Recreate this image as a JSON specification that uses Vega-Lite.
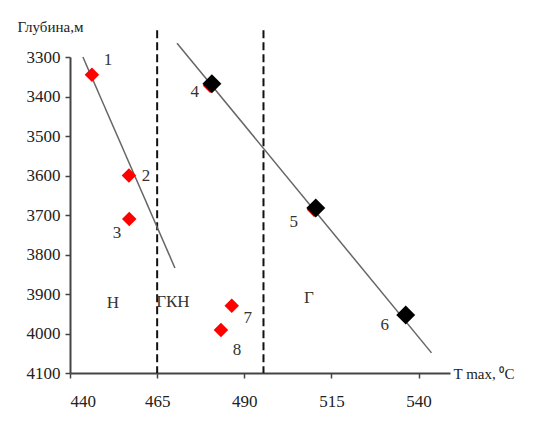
{
  "$schema": "https://vega.github.io/schema/vega-lite/v6.json",
  "width": 380,
  "height": 316,
  "autosize": {"type": "none"},
  "padding": {"left": 70, "top": 57, "right": 89, "bottom": 59},
  "background": "white",
  "config": {
    "view": {"stroke": null},
    "font": "Liberation Serif"
  },
  "encoding": {
    "x": {
      "type": "quantitative",
      "scale": {"domain": [440, 549], "nice": false, "zero": false},
      "axis": {
        "values": [440, 465, 490, 515, 540],
        "format": "d",
        "grid": false,
        "domainColor": "#444",
        "domainWidth": 2,
        "tickColor": "#444",
        "tickWidth": 1.5,
        "tickSize": 5,
        "labelFont": "Liberation Serif",
        "labelFontSize": 17,
        "labelColor": "#222",
        "labelPadding": 15,
        "title": "T max, ⁰C",
        "titleFont": "Liberation Serif",
        "titleFontSize": 15,
        "titleFontWeight": "normal",
        "titleColor": "#222",
        "titleX": 383,
        "titleY": 0,
        "titleAlign": "left",
        "titleBaseline": "middle",
        "titleAngle": 0
      }
    },
    "y": {
      "type": "quantitative",
      "scale": {"domain": [3300, 4100], "nice": false, "zero": false, "reverse": true},
      "axis": {
        "values": [3300, 3400, 3500, 3600, 3700, 3800, 3900, 4000, 4100],
        "format": "d",
        "grid": false,
        "domainColor": "#444",
        "domainWidth": 2,
        "tickColor": "#444",
        "tickWidth": 1.5,
        "tickSize": 5,
        "labelFont": "Liberation Serif",
        "labelFontSize": 17,
        "labelColor": "#222",
        "labelPadding": 5,
        "title": "Глубина,м",
        "titleFont": "Liberation Serif",
        "titleFontSize": 15,
        "titleFontWeight": "normal",
        "titleColor": "#222",
        "titleX": -53,
        "titleY": -26,
        "titleAlign": "left",
        "titleBaseline": "alphabetic",
        "titleAngle": 0
      }
    }
  },
  "layer": [
    {
      "data": {"values": [
        {"t": 465, "top": 3232, "bottom": 4100},
        {"t": 495.5, "top": 3232, "bottom": 4100}
      ]},
      "mark": {"type": "rule", "color": "#111", "strokeWidth": 2, "strokeDash": [8, 4]},
      "encoding": {
        "x": {"field": "t"},
        "y": {"field": "top"},
        "y2": {"field": "bottom"}
      }
    },
    {
      "data": {"values": [
        {"trend": "a", "t": 443.7, "d": 3300},
        {"trend": "a", "t": 470.1, "d": 3834},
        {"trend": "b", "t": 470.7, "d": 3265},
        {"trend": "b", "t": 543.7, "d": 4049}
      ]},
      "mark": {"type": "line", "color": "#666", "strokeWidth": 1.5},
      "encoding": {
        "x": {"field": "t"},
        "y": {"field": "d"},
        "detail": {"field": "trend"}
      }
    },
    {
      "data": {"values": [
        {"id": 1, "t": 446.3, "d": 3345},
        {"id": 2, "t": 456.9, "d": 3600},
        {"id": 3, "t": 457.0, "d": 3710},
        {"id": 4, "t": 480.2, "d": 3373},
        {"id": 5, "t": 510.0, "d": 3687},
        {"id": 6, "t": 536.3, "d": 3953},
        {"id": 7, "t": 486.4, "d": 3930},
        {"id": 8, "t": 483.3, "d": 3991}
      ]},
      "mark": {"type": "point", "shape": "diamond", "filled": true, "color": "#ff0000", "size": 210, "opacity": 1},
      "encoding": {
        "x": {"field": "t"},
        "y": {"field": "d"}
      }
    },
    {
      "data": {"values": [
        {"id": 4, "t": 480.7, "d": 3368},
        {"id": 5, "t": 510.5, "d": 3682},
        {"id": 6, "t": 536.3, "d": 3953}
      ]},
      "mark": {"type": "point", "shape": "diamond", "filled": true, "color": "#000000", "size": 360, "opacity": 1},
      "encoding": {
        "x": {"field": "t"},
        "y": {"field": "d"}
      }
    },
    {
      "data": {"values": [
        {"label": "1", "t": 450.9, "d": 3308},
        {"label": "2", "t": 461.8, "d": 3601},
        {"label": "3", "t": 453.5, "d": 3745},
        {"label": "4", "t": 475.8, "d": 3389},
        {"label": "5", "t": 504.2, "d": 3718},
        {"label": "6", "t": 530.3, "d": 3978},
        {"label": "7", "t": 491.0, "d": 3961},
        {"label": "8", "t": 487.9, "d": 4042},
        {"label": "Н", "t": 452.3, "d": 3923},
        {"label": "ГКН", "t": 469.5, "d": 3920},
        {"label": "Г", "t": 508.5, "d": 3910}
      ]},
      "mark": {"type": "text", "font": "Liberation Serif", "fontSize": 17, "color": "#333", "align": "center", "baseline": "middle"},
      "encoding": {
        "x": {"field": "t"},
        "y": {"field": "d"},
        "text": {"field": "label"}
      }
    }
  ]
}
